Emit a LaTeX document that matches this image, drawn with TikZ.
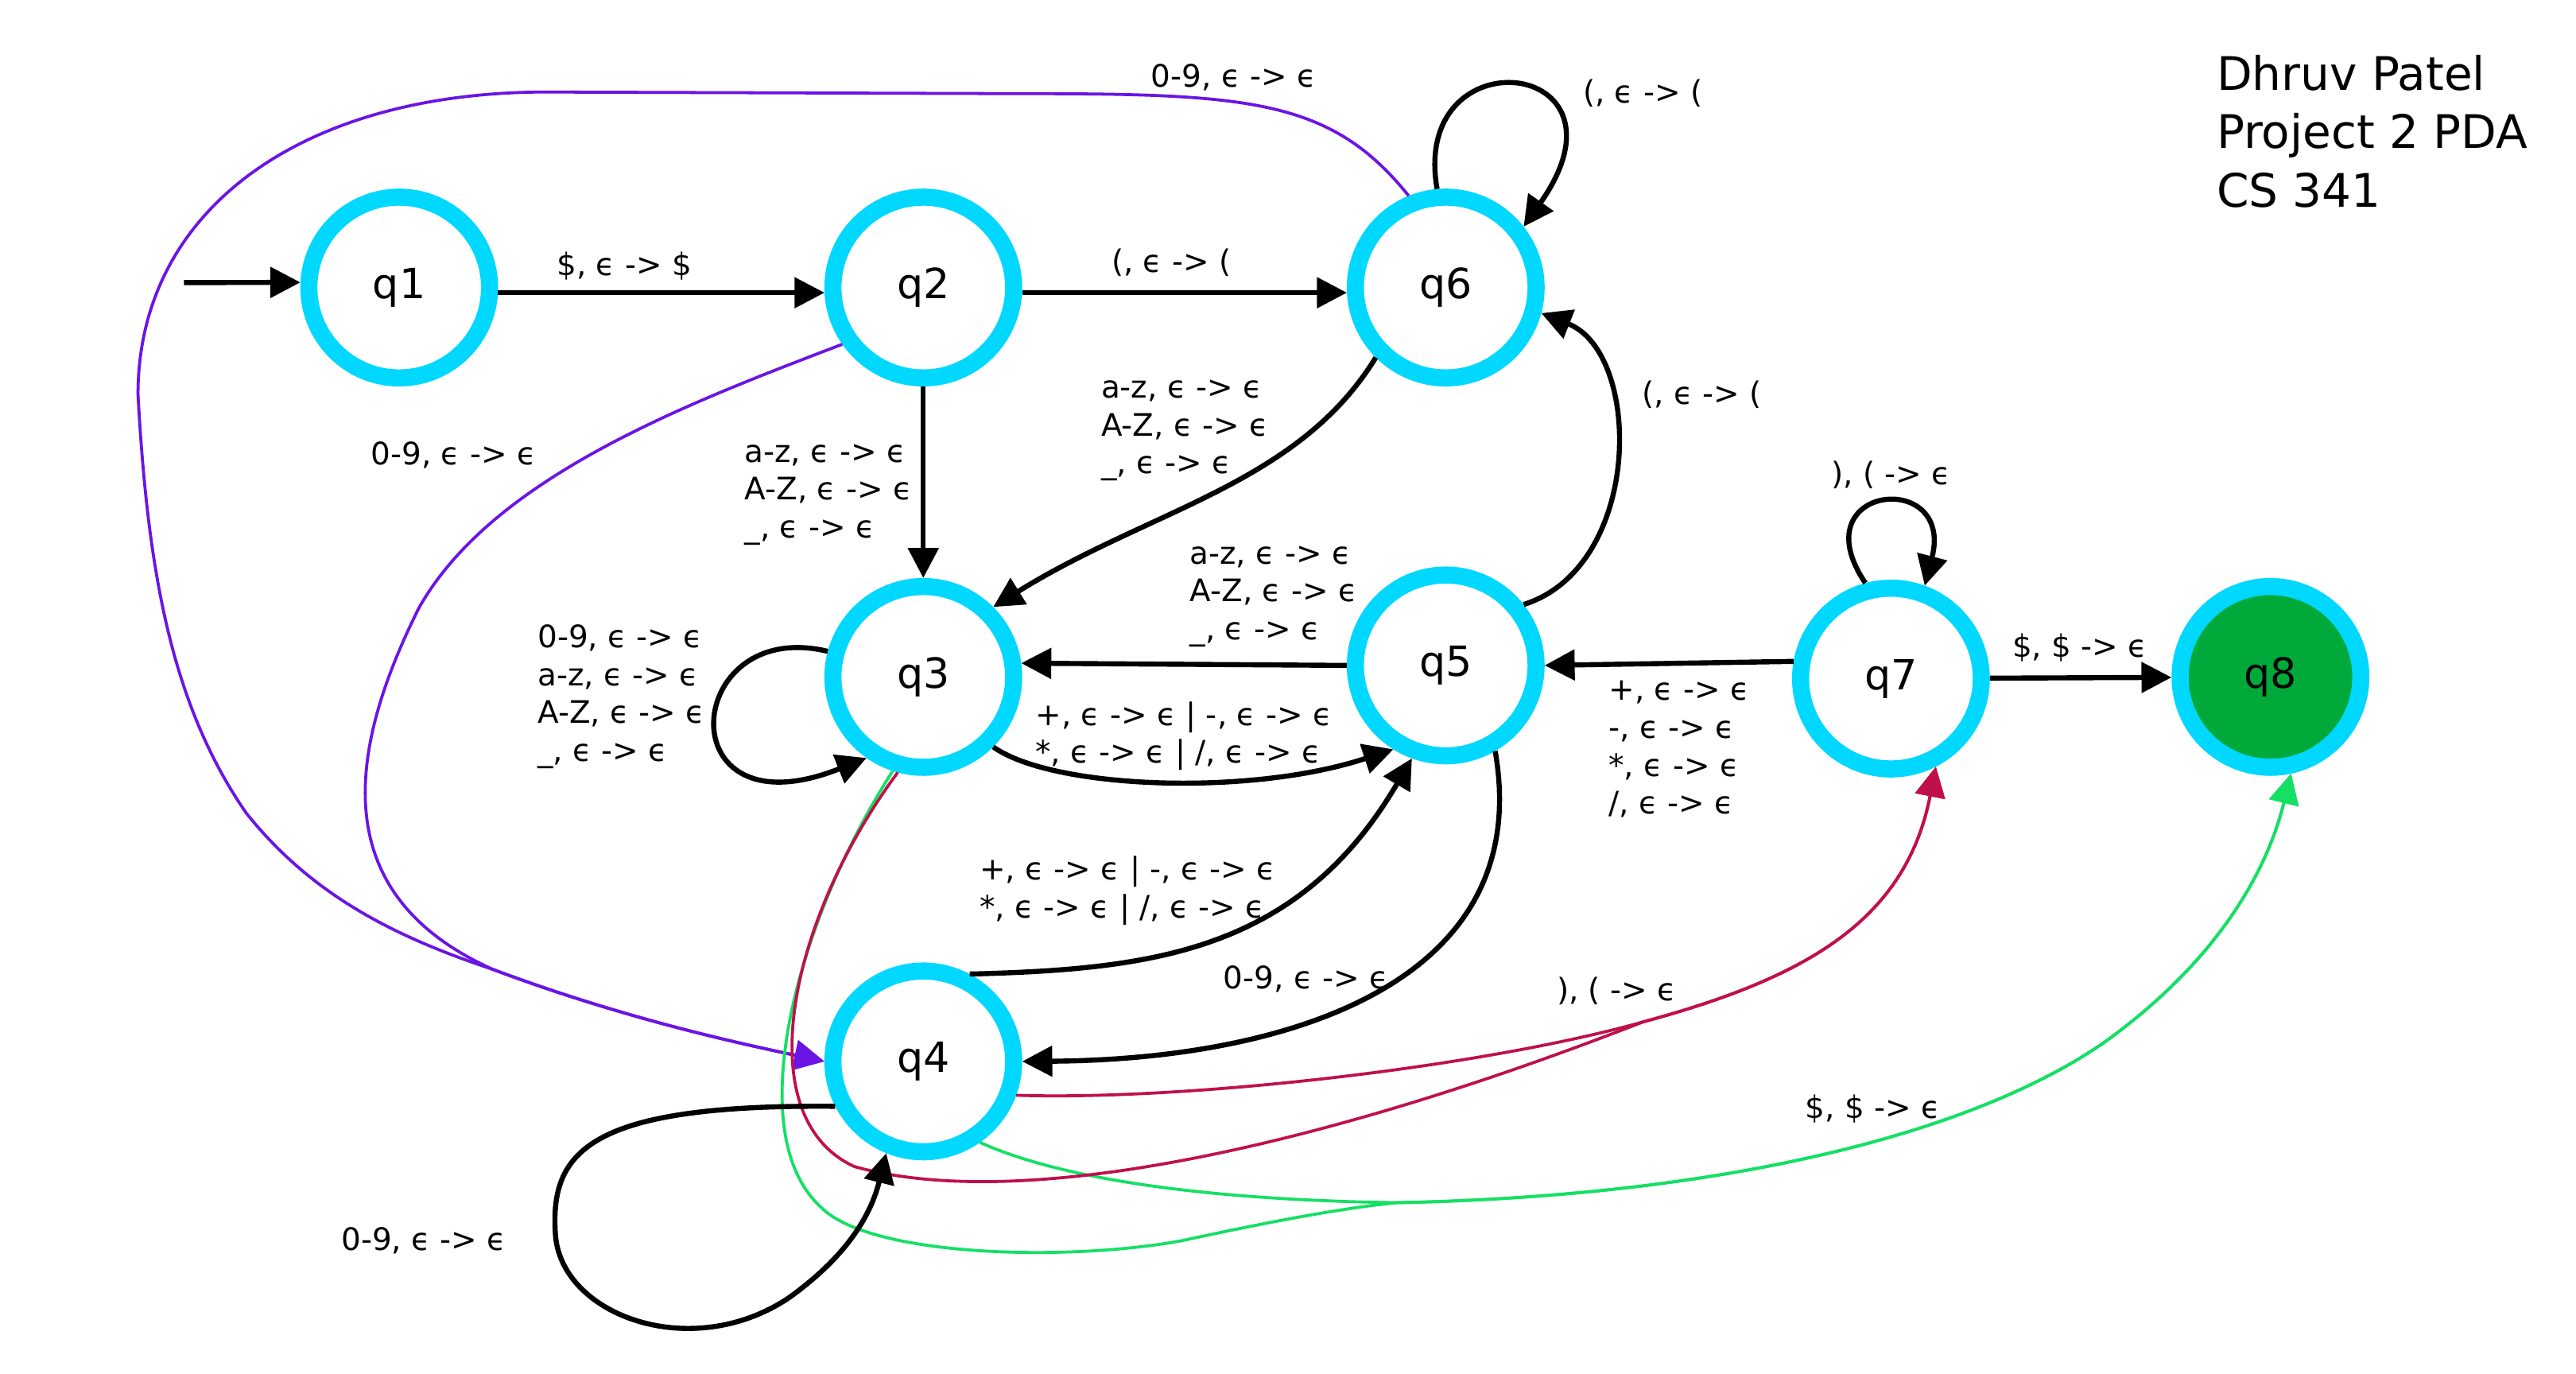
\documentclass[tikz,border=0pt]{standalone}
\usepackage{fontspec}
\setmainfont{DejaVu Sans}
\usetikzlibrary{arrows.meta}

\definecolor{ringblue}{HTML}{00D8FF}
\definecolor{acceptgreen}{HTML}{00AA3A}
\definecolor{purpleline}{HTML}{6A14E6}
\definecolor{redline}{HTML}{C0104A}
\definecolor{greenline}{HTML}{14E064}

\tikzset{
  state/.style={circle,draw=ringblue,line width=7.4pt,minimum size=2.75cm,
    inner sep=0pt,font=\fontsize{18}{20}\selectfont},
  trans/.style={draw=black,line width=2.2pt,-{Triangle[length=13pt,width=13pt]}},
  ptrans/.style={trans,draw=purpleline,line width=1.3pt},
  rtrans/.style={trans,draw=redline,line width=1.3pt},
  gtrans/.style={trans,draw=greenline,line width=1.3pt},
  lbl/.style={inner sep=0pt,align=left,font=\fontsize{13.4}{16.4}\selectfont},
  title/.style={inner sep=0pt,align=left,font=\fontsize{20}{25.4}\selectfont}
}

\begin{document}
\begin{tikzpicture}[x=0.025cm,y=-0.025cm]
    \useasboundingbox (0,0) rectangle (1568,836);
    \node[state] (q1) at (243,175) {q1};
    \node[state] (q2) at (562,175) {q2};
    \node[state] (q6) at (880,175) {q6};
    \node[state] (q3) at (562,412) {q3};
    \node[state] (q5) at (880,405) {q5};
    \node[state] (q4) at (562,646) {q4};
    \node[state] (q7) at (1151,413) {q7};
    \node[state,fill=acceptgreen] (q8) at (1382,412) {q8};
    \coordinate (start) at (112,172);
    \node[title,anchor=west] (name) at (1349,80) {Dhruv Patel\\Project 2 PDA\\CS 341};

    % coloured transitions
    \draw[ptrans] (q6.112) .. controls (810,60) and (760,57) .. (620,57) -- (330,56)
        .. controls (180,57) and (84,130) .. (84,240)
        .. controls (90,350) and (105,430) .. (150,495)
        .. controls (190,545) and (240,570) .. (300,590)
        .. controls (380,620) and (450,635) .. (q4.180);
    \draw[ptrans] (q2.215) .. controls (420,245) and (300,290) .. (255,370)
        .. controls (210,460) and (200,545) .. (300,590)
        .. controls (380,620) and (450,635) .. (q4.180);
    \draw[gtrans] (q3.-108) .. controls (485,560) and (450,690) .. (500,735)
        .. controls (530,765) and (650,768) .. (720,755)
        .. controls (780,742) and (820,735) .. (850,732)
        .. controls (1050,728) and (1200,690) .. (1280,635)
        .. controls (1350,585) and (1380,530) .. (q8.-78);
    \draw[gtrans] (q4.-55) .. controls (640,715) and (720,730) .. (850,732)
        .. controls (1050,728) and (1200,690) .. (1280,635)
        .. controls (1350,585) and (1380,530) .. (q8.-78);
    \draw[rtrans] (q3.-105) .. controls (480,560) and (455,680) .. (520,710)
        .. controls (620,738) and (800,700) .. (1000,622)
        .. controls (1100,595) and (1160,560) .. (q7.-63);
    \draw[rtrans] (q4.-20) .. controls (720,670) and (900,650) .. (1000,622)
        .. controls (1100,595) and (1160,560) .. (q7.-63);

    % black transitions
    \draw[trans] (start) -- (q1.177);
    \draw[trans] (q1.-3) -- (q2.183);
    \draw[trans] (q2.-3) -- (q6.183);
    \draw[trans] (q2.-90) -- (q3.90);
    \draw[trans] (q6.225) .. controls (790,295) and (700,310) .. (q3.45);
    \draw[trans] (q5.180) -- (q3.8);
    \draw[trans] (q3.-45) .. controls (640,480) and (760,485) .. (q5.238);
    \draw[trans] (q4.62) .. controls (700,590) and (790,580) .. (q5.250);
    \draw[trans] (q5.-60) .. controls (935,600) and (780,645) .. (q4.0);
    \draw[trans] (q5.38) .. controls (1000,345) and (1000,215) .. (q6.-15);
    \draw[trans] (q7.170) -- (q5.0);
    \draw[trans] (q7) -- (q8);
    \draw[trans] (q6.95) .. controls (858,20) and (1000,35) .. (q6.38);
    \draw[trans] (q7.105) .. controls (1095,295) and (1190,285) .. (q7.70);
    \draw[trans] (q3.165) .. controls (415,375) and (405,510) .. (q3.235);
    \draw[trans] (q4.207) .. controls (360,672) and (335,700) .. (338,750)
        .. controls (340,800) and (420,830) .. (480,790)
        .. controls (515,765) and (530,740) .. (q4.248);

    % labels
    \node[lbl] (l12) at (380,162) {\$, ϵ -> \$};
    \node[lbl] (l26) at (713,160) {(, ϵ -> (};
    \node[lbl,anchor=west] (l23) at (453,301) {a-z, ϵ -> ϵ\\A-Z, ϵ -> ϵ\\\_, ϵ -> ϵ};
    \node[lbl,anchor=west] (l63) at (670,262) {a-z, ϵ -> ϵ\\A-Z, ϵ -> ϵ\\\_, ϵ -> ϵ};
    \node[lbl,anchor=west] (l53) at (724,363) {a-z, ϵ -> ϵ\\A-Z, ϵ -> ϵ\\\_, ϵ -> ϵ};
    \node[lbl,anchor=west] (l35) at (630,448) {+, ϵ -> ϵ | -, ϵ -> ϵ\\*, ϵ -> ϵ | /, ϵ -> ϵ};
    \node[lbl,anchor=west] (l33) at (327,424) {0-9, ϵ -> ϵ\\a-z, ϵ -> ϵ\\A-Z, ϵ -> ϵ\\\_, ϵ -> ϵ};
    \node[lbl,anchor=west] (l45) at (596,542) {+, ϵ -> ϵ | -, ϵ -> ϵ\\*, ϵ -> ϵ | /, ϵ -> ϵ};
    \node[lbl] (l54) at (795,596) {0-9, ϵ -> ϵ};
    \node[lbl] (l64) at (751,47) {0-9, ϵ -> ϵ};
    \node[lbl] (l24) at (276,277) {0-9, ϵ -> ϵ};
    \node[lbl,anchor=west] (l75) at (979,456) {+, ϵ -> ϵ\\-, ϵ -> ϵ\\*, ϵ -> ϵ\\/, ϵ -> ϵ};
    \node[lbl] (l78) at (1266,394) {\$, \$ -> ϵ};
    \node[lbl] (l77) at (1151,289) {), ( -> ϵ};
    \node[lbl] (l66) at (1000,57) {(, ϵ -> (};
    \node[lbl] (l56) at (1036,240) {(, ϵ -> (};
    \node[lbl] (l44) at (258,755) {0-9, ϵ -> ϵ};
    \node[lbl] (l37) at (984,603) {), ( -> ϵ};
    \node[lbl] (l38) at (1140,675) {\$, \$ -> ϵ};
\end{tikzpicture}
\end{document}
